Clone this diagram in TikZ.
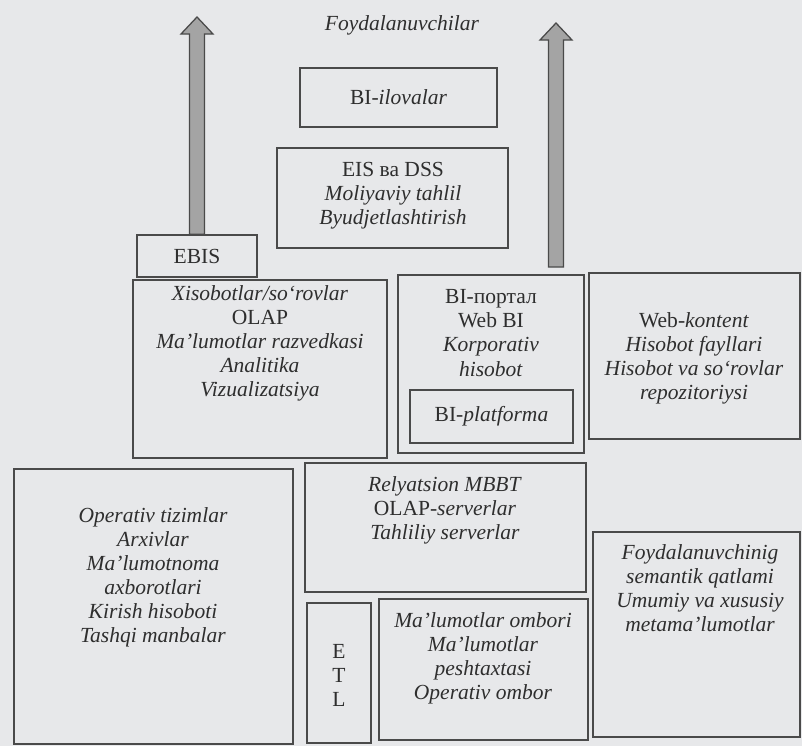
\documentclass[tikz,border=0pt]{standalone}
\usepackage{fontspec}
\setmainfont{Liberation Serif}
\usetikzlibrary{fit,calc}

\definecolor{paper}{HTML}{E7E8EA}
\definecolor{ink}{HTML}{2E2E2E}
\definecolor{frame}{HTML}{4A4A4A}
\definecolor{shaft}{HTML}{A4A4A4}

% grey block arrow pointing up, from #1 to the tip #2
\newcommand{\blockup}[2]{%
  \draw[frame, fill=shaft, line width=0.9pt, line join=miter]
    ($(#1)+(-7.5,0)$) -- ($(#2)+(-7.5,17)$) -- ($(#2)+(-16,17)$) -- (#2)
    -- ($(#2)+(16,17)$) -- ($(#2)+(7.5,17)$) -- ($(#1)+(7.5,0)$) -- cycle;}

\begin{document}
\begin{tikzpicture}[x=0.025cm, y=-0.025cm]
\fill[paper] (0,0) rectangle (802,746);
\useasboundingbox (0,0) rectangle (802,746);

% frames
\begin{scope}[every node/.style={draw=frame, line width=1.1pt, inner sep=0pt}]
  \node[fit={(300,68) (497,127)}] (apps) {};
  \node[fit={(277,148) (508,248)}] (eis) {};
  \node[fit={(137,235) (257,277)}] (ebis) {};
  \node[fit={(133,280) (387,458)}] (rep) {};
  \node[fit={(398,275) (584,453)}] (portal) {};
  \node[fit={(410,390) (573,443)}] (platf) {};
  \node[fit={(589,273) (800,439)}] (web) {};
  \node[fit={(14,469) (293,744)}] (src) {};
  \node[fit={(305,463) (586,592)}] (srv) {};
  \node[fit={(307,603) (371,743)}] (etl) {};
  \node[fit={(379,599) (588,740)}] (dwh) {};
  \node[fit={(593,532) (800,737)}] (meta) {};
\end{scope}

% texts
\begin{scope}[every node/.style={text=ink, align=center, inner sep=0pt,
    font=\fontsize{15.3}{17.1}\selectfont}]
  \node (users) at (402,25) {\textit{Foydalanuvchilar}};
  \node (appsT) at (apps.center) {BI-\textit{ilovalar}};
  \node (eisT) at (393,196) {EIS ва DSS\\ \textit{Moliyaviy tahlil}\\ \textit{Byudjetlashtirish}};
  \node (ebisT) at (ebis.center) {EBIS};
  \node (repT) at (260,343) {\textit{Xisobotlar/so‘rovlar}\\ OLAP\\ \textit{Ma’lumotlar razvedkasi}\\
    \textit{Analitika}\\ \textit{Vizualizatsiya}};
  \node (portalT) at (491,333) {BI-портал\\ Web BI\\ \textit{Korporativ}\\ \textit{hisobot}};
  \node (platfT) at (platf.center) {BI-\textit{platforma}};
  \node (webT) at (694,358) {Web-\textit{kontent}\\ \textit{Hisobot fayllari}\\
    \textit{Hisobot va so‘rovlar}\\ \textit{repozitoriysi}};
  \node (srcT) at (153,577) {\textit{Operativ tizimlar}\\ \textit{Arxivlar}\\ \textit{Ma’lumotnoma}\\
    \textit{axborotlari}\\ \textit{Kirish hisoboti}\\ \textit{Tashqi manbalar}};
  \node (srvT) at (445,510) {\textit{Relyatsion MBBT}\\ OLAP-\textit{serverlar}\\ \textit{Tahliliy serverlar}};
  \node (etlT) at (339,675) {E\\ T\\ L};
  \node (dwhT) at (483,658) {\textit{Ma’lumotlar ombori}\\ \textit{Ma’lumotlar}\\ \textit{peshtaxtasi}\\
    \textit{Operativ ombor}};
  \node (metaT) at (700,588) {\textit{Foydalanuvchinig}\\ \textit{semantik qatlami}\\
    \textit{Umumiy va xususiy}\\ \textit{metama’lumotlar}};
\end{scope}

% arrows up to the users
\coordinate (tipL) at (ebis.north |- 0,17);
\coordinate (baseR) at (556,267);
\coordinate (tipR) at (556,23);
\blockup{ebis.north}{tipL}
\blockup{baseR}{tipR}
\end{tikzpicture}
\end{document}
